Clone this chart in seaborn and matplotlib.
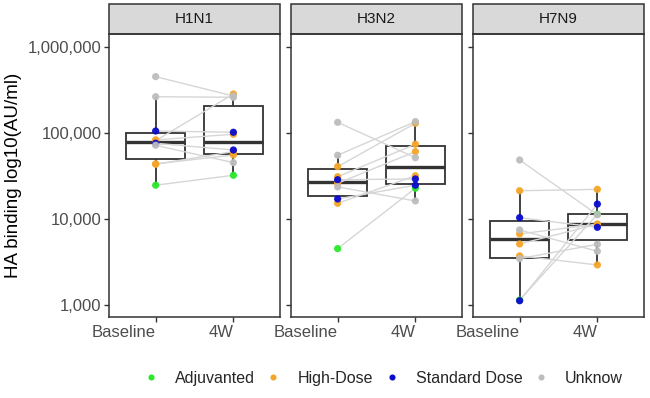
import numpy as np
import pandas as pd
import matplotlib
matplotlib.use("Agg")
import matplotlib.pyplot as plt
from matplotlib.lines import Line2D
from matplotlib.patches import Rectangle
import seaborn as sns

# data (AU/ml), one value per subject
strains = ["H1N1", "H3N2", "H7N9"]
timepoints = ["Baseline", "4W"]
groups = ["Adjuvanted", "High-Dose", "High-Dose", "High-Dose", "High-Dose",
          "Standard Dose", "Standard Dose", "Unknow", "Unknow", "Unknow"]

h1n1_baseline = [24700, 81300, 83200, 43300, 43700, 105400, 75900, 264000, 452000, 71900]
h1n1_4w = [32200, 284000, 96600, 60700, 55500, 101900, 63400, 260000, 269000, 45200]

h3n2_baseline = [4520, 40600, 31000, 26000, 15200, 28600, 17100, 133000, 55100, 23600]
h3n2_4w = [22800, 129700, 74000, 60700, 31800, 29200, 24700, 51600, 135500, 16200]

h7n9_baseline = [1140, 21300, 6700, 5120, 3720, 10350, 1120, 48500, 7450, 3460]
h7n9_4w = [11350, 22100, 8710, 8670, 2920, 8000, 14900, 11200, 4210, 5080]

group_order = ["Adjuvanted", "High-Dose", "Standard Dose", "Unknow"]
palette = {"Adjuvanted": "#2BE82B", "High-Dose": "#F4A52A",
           "Standard Dose": "#0A0ACF", "Unknow": "#BDBDBD"}

values = {
    "H1N1": (h1n1_baseline, h1n1_4w),
    "H3N2": (h3n2_baseline, h3n2_4w),
    "H7N9": (h7n9_baseline, h7n9_4w),
}

rows = []
for strain in strains:
    base, w4 = values[strain]
    for i, g in enumerate(groups):
        rows.append({"strain": strain, "subject": i, "group": g, "time": "Baseline", "value": base[i]})
        rows.append({"strain": strain, "subject": i, "group": g, "time": "4W", "value": w4[i]})
df = pd.DataFrame(rows)

sns.set_style("white")
plt.rcParams["font.family"] = ["Liberation Sans", "DejaVu Sans"]

fig, axes = plt.subplots(1, 3, figsize=(6.5, 3.98), dpi=100, sharey=True)
fig.subplots_adjust(left=0.1677, right=0.9908, top=0.9146, bottom=0.2035, wspace=0.064)

for ax, strain in zip(axes, strains):
    sub = df[df["strain"] == strain]
    sns.boxplot(data=sub, x="time", y="value", order=timepoints, ax=ax,
                log_scale=True, width=0.75, showfliers=False, showcaps=False, whis=1.5,
                color="white", linecolor="#333333", linewidth=1.3,
                medianprops={"linewidth": 2.4}, zorder=1)
    # paired lines per subject
    for subj, d in sub.groupby("subject"):
        d = d.set_index("time").loc[timepoints]
        ax.plot([0, 1], d["value"].values, color="#D6D6D6", linewidth=1.0, zorder=2)
    sns.stripplot(data=sub, x="time", y="value", order=timepoints, hue="group",
                  hue_order=group_order, palette=palette, ax=ax, log_scale=True,
                  jitter=False, size=5.2, linewidth=0, alpha=0.95, zorder=3, legend=False)

    ax.set_xlim(-0.6, 1.6)
    ax.set_ylim(10 ** 2.86, 10 ** 6.151)
    ax.set_yticks([1e3, 1e4, 1e5, 1e6])
    ax.set_yticklabels(["1,000", "10,000", "100,000", "1,000,000"])
    ax.yaxis.set_minor_locator(matplotlib.ticker.NullLocator())
    ax.set_xlabel("")
    ax.set_ylabel("")
    ax.tick_params(axis="both", which="major", length=3.5, width=1.0, color="#333333",
                   labelcolor="#4D4D4D", labelsize=12, pad=2, left=True, bottom=True)
    for lab in ax.get_xticklabels():
        lab.set_horizontalalignment("right")
    for s in ax.spines.values():
        s.set_color("#333333")
        s.set_linewidth(1.1)
    ax.grid(False)

    # facet strip
    strip = Rectangle((0, 1), 1, 0.106, transform=ax.transAxes, clip_on=False,
                      facecolor="#D9D9D9", edgecolor="#333333", linewidth=1.1)
    ax.add_patch(strip)
    ax.text(0.5, 1.053, strain, transform=ax.transAxes, ha="center", va="center",
            fontsize=11, color="#1A1A1A")

axes[0].set_ylabel("HA binding log10(AU/ml)", fontsize=13.5, color="black", labelpad=4)

handles = [Line2D([], [], marker="o", linestyle="", markersize=4.4,
                  markerfacecolor=palette[g], markeredgewidth=0) for g in group_order]
fig.legend(handles, group_order, loc="center", bbox_to_anchor=(0.589, 0.05), ncol=4,
           frameon=False, fontsize=11.5, handlelength=1.0, handletextpad=1.0,
           columnspacing=0.67)

fig.savefig("out.png", dpi=100)
